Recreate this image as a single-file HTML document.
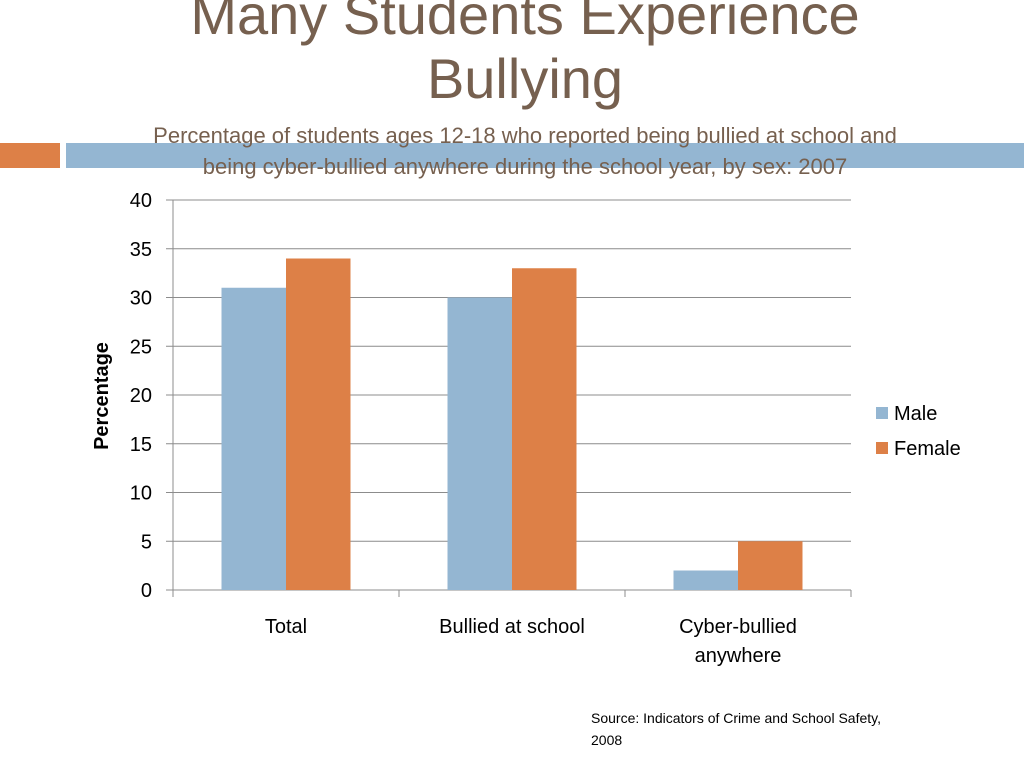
<!DOCTYPE html>
<html><head><meta charset="utf-8"><style>
body{margin:0;width:1024px;height:768px;background:#fff;overflow:hidden;font-family:"Liberation Sans",sans-serif;position:relative}
.t{position:absolute;left:0;width:1050px;text-align:center;color:#76604f}
</style></head><body>
<div style="position:absolute;left:0;top:143px;width:60px;height:25px;background:#dd8047"></div>
<div style="position:absolute;left:66px;top:143px;width:958px;height:25px;background:#94b6d2"></div>
<div class="t" style="top:-17px;font-size:56px;line-height:64px">Many Students Experience<br>Bullying</div>
<div class="t" style="top:120px;font-size:22px;line-height:31px">Percentage of students ages 12-18 who reported being bullied at school and<br>being cyber-bullied anywhere during the school year, by sex: 2007</div>
<svg id="c" width="1024" height="768" style="position:absolute;left:0;top:0"></svg>
<div style="position:absolute;left:591px;top:707px;font-size:14px;line-height:22px;color:#000">Source: Indicators of Crime and School Safety,<br>2008</div>
<script>
const categories=[["Total"],["Bullied at school"],["Cyber-bullied","anywhere"]];
const male=[31,30,2];
const female=[34,33,5];
const ticks=[0,5,10,15,20,25,30,35,40];
const svg=document.getElementById('c');const NS='http://www.w3.org/2000/svg';
const x0=173,x1=851,y0=590,y40=200;
const y=v=>y0-(v/40)*(y0-y40);
const cw=(x1-x0)/categories.length;
function mk(t,a,p){const e=document.createElementNS(NS,t);for(const k in a)e.setAttribute(k,a[k]);(p||svg).appendChild(e);return e;}
const F='"Liberation Sans",sans-serif';
ticks.forEach(v=>{
const l=mk('line',{x1:166,x2:x1,y1:y(v),y2:y(v),stroke:'#8c8c8c','stroke-width':1});

const t=mk('text',{x:152,y:y(v)+7,'text-anchor':'end','font-size':20,'font-family':F,fill:'#000'});t.textContent=v;

});
const ax=mk('line',{x1:x0,x2:x0,y1:y40,y2:y0,stroke:'#8c8c8c'});
for(let i=0;i<=categories.length;i++){const l=mk('line',{x1:x0+i*cw,x2:x0+i*cw,y1:y0,y2:y0+7,stroke:'#8c8c8c'});}
const bw=64.5;
categories.forEach((c,i)=>{
const cx=x0+cw*(i+0.5);
const m=mk('rect',{x:cx-bw,y:y(male[i]),width:bw,height:y0-y(male[i]),fill:'#94b6d2'});

const f=mk('rect',{x:cx,y:y(female[i]),width:bw,height:y0-y(female[i]),fill:'#dd8047'});

c.forEach((s,j)=>{const t=mk('text',{x:cx,y:633+j*29,'text-anchor':'middle','font-size':20,'font-family':F,fill:'#000'});t.textContent=s;
});
});
const yt=mk('text',{x:0,y:0,transform:'translate(108,396) rotate(-90)','text-anchor':'middle','font-size':20,'font-weight':'bold','font-family':F,fill:'#000'});yt.textContent='Percentage';

[['Male','#94b6d2',407],['Female','#dd8047',442]].forEach(([n,c,yy])=>{
const g=mk('g',{});
mk('rect',{x:876,y:yy,width:12,height:12,fill:c},g);
const t=mk('text',{x:894,y:yy+13,'font-size':20,'font-family':F,fill:'#000'},g);t.textContent=n;
});
</script>
</body></html>
